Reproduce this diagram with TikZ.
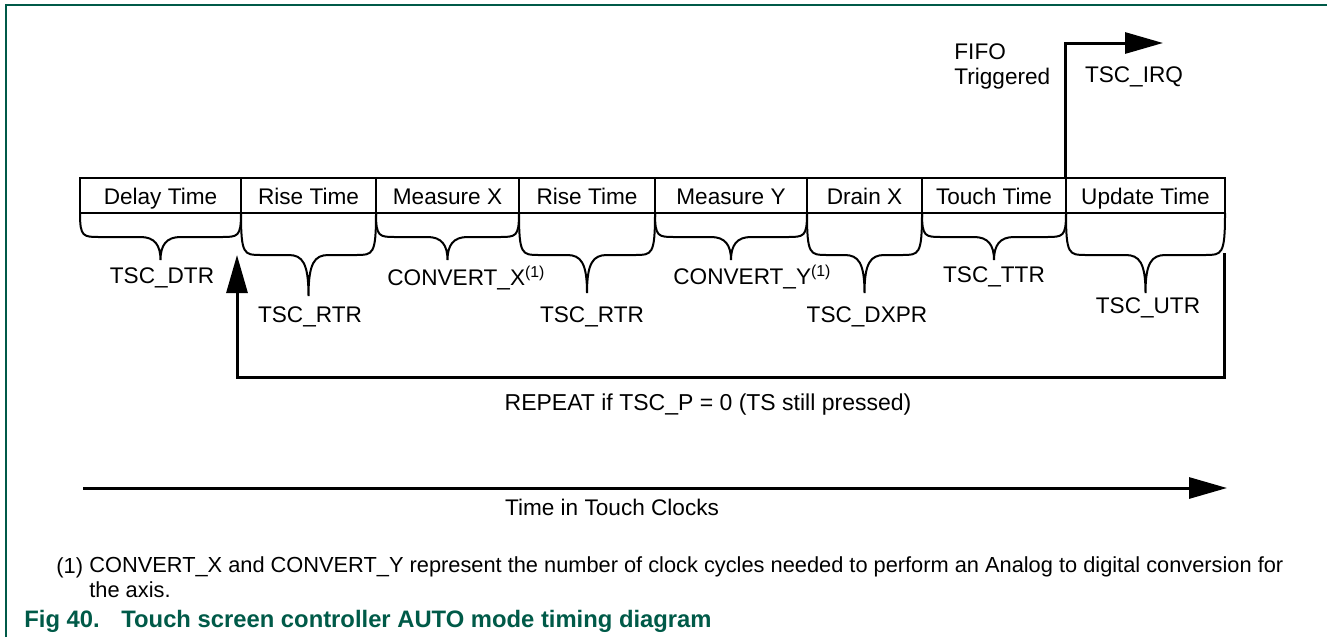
\documentclass[tikz,border=0pt]{standalone}
\usepackage{fontspec}
\setmainfont{Liberation Sans}
\usetikzlibrary{arrows.meta}
\definecolor{figgreen}{RGB}{0,90,72}

% curly brace under one time slot: left x, right x, middle level, tip level
\newcommand{\slotbrace}[4]{%
  \draw[brc] (#1,213) .. controls (#1,#3) and ({#1+3},#3) .. ({#1+20},#3)
    -- ({(#1+#2)/2-20},#3) .. controls ({(#1+#2)/2-6},#3) and ({(#1+#2)/2},{#3+8}) .. ({(#1+#2)/2},#4)
    .. controls ({(#1+#2)/2},{#3+8}) and ({(#1+#2)/2+6},#3) .. ({(#1+#2)/2+20},#3)
    -- ({#2-20},#3) .. controls ({#2-3},#3) and (#2,#3) .. (#2,213);}

\begin{document}
\begin{tikzpicture}[x=0.5pt,y=-0.5pt,
  slot/.style={draw,line width=1pt,minimum height=17.5pt,inner sep=0pt,
    text height=9.3pt,text depth=0pt,font=\fontsize{11.3}{13}\selectfont},
  brc/.style={line width=1pt},
  lbl/.style={font=\fontsize{11.3}{12.5}\selectfont,inner sep=0pt},
  flow/.style={line width=1.5pt,-{Triangle[length=19pt,width=10.5pt]}},
  note/.style={font=\fontsize{10.9}{12.5}\selectfont,inner sep=0pt},
  caption/.style={font=\fontsize{11.9}{14}\selectfont\bfseries,text=figgreen,
    inner sep=0pt,anchor=base west}]
\useasboundingbox (0,0) rectangle (1327,637);
\draw[figgreen,line width=0.8pt] (6,637) -- (6,5) -- (1327,5);

% time slots
\node[slot,minimum width=80.5pt] (delay) at (160.5,195.5) {Delay Time};
\node[slot,minimum width=67.5pt] (rise1) at (308.5,195.5) {Rise Time};
\node[slot,minimum width=71.5pt] (measx) at (447.5,195.5) {Measure X};
\node[slot,minimum width=68pt] (rise2) at (587,195.5) {Rise Time};
\node[slot,minimum width=76pt] (measy) at (731,195.5) {Measure Y};
\node[slot,minimum width=57.5pt] (drain) at (864.5,195.5) {Drain X};
\node[slot,minimum width=72pt] (touch) at (994,195.5) {Touch Time};
\node[slot,minimum width=79.5pt] (update) at (1145.5,195.5) {Update Time};

\slotbrace{80}{241}{237}{260}
\slotbrace{241}{376}{255}{296}
\slotbrace{376}{519}{237}{260}
\slotbrace{519}{655}{255}{293}
\slotbrace{655}{807}{237}{260}
\slotbrace{807}{922}{255}{293}
\slotbrace{922}{1066}{237}{260}
\slotbrace{1066}{1225}{255}{293}

% register labels
\node[lbl] (dtr) at (162,278) {TSC\_DTR};
\node[lbl] (rtr1) at (310,317) {TSC\_RTR};
\node[lbl,anchor=base west] (cvx) at (387,285) {CONVERT\_X\textsuperscript{(1)}};
\node[lbl] (rtr2) at (592,317) {TSC\_RTR};
\node[lbl,anchor=base west] (cvy) at (673,284) {CONVERT\_Y\textsuperscript{(1)}};
\node[lbl] (dxpr) at (867,317) {TSC\_DXPR};
\node[lbl] (ttr) at (994,277) {TSC\_TTR};
\node[lbl] (utr) at (1148,308) {TSC\_UTR};

% interrupt
\coordinate (irqtip) at (1163,43);
\draw[flow] (update.north west) |- (irqtip);
\node[lbl,align=left,anchor=north west] (fifo) at (954,43) {FIFO\\Triggered};
\node[lbl] (irq) at (1134,77) {TSC\_IRQ};

% repeat loop
\coordinate (repfrom) at (1224,253);
\coordinate (repto) at (237,255);
\draw[flow] (repfrom) -- ++(0,124) -| (repto);
\node[lbl,font=\fontsize{11.5}{12.5}\selectfont] (rep) at (708,405) {REPEAT if TSC\_P = 0 (TS still pressed)};

% time axis
\coordinate (t0) at (83,488);
\coordinate (t1) at (1227,488);
\draw[flow] (t0) -- (t1);
\node[lbl] (tlab) at (612,507) {Time in Touch Clocks};

% footnote and caption
\node[note,anchor=base west] (fnum) at (56,573) {(1)};
\node[note,anchor=west,align=left] (fn) at (89,577.5) {CONVERT\_X and CONVERT\_Y represent the number of clock cycles needed to perform an Analog to digital conversion for\\the axis.};
\node[caption] (fig) at (24,627) {Fig 40.};
\node[caption] (title) at (121,627) {Touch screen controller AUTO mode timing diagram};
\end{tikzpicture}
\end{document}
